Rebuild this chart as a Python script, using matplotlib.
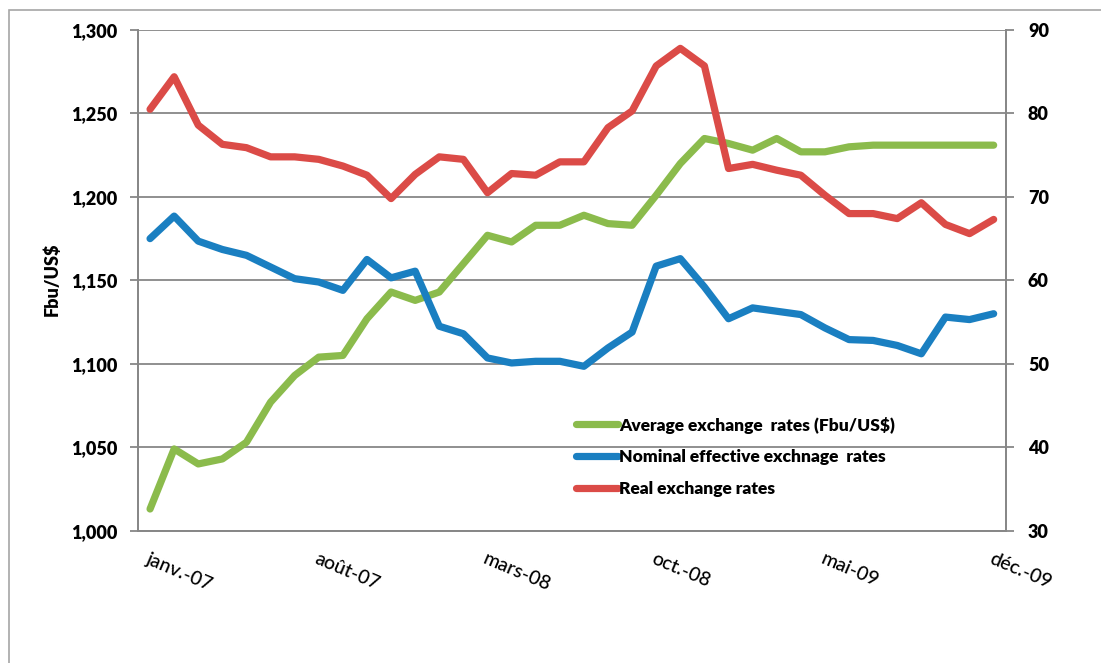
import matplotlib
matplotlib.use("Agg")
import matplotlib.pyplot as plt
from matplotlib.lines import Line2D
from matplotlib.patches import Rectangle
from matplotlib.font_manager import FontProperties

# ---- data ----
months = list(range(36))
tick_pos = [0, 7, 14, 21, 28, 35]
tick_labels = ["janv.-07", "août-07", "mars-08", "oct.-08", "mai-09", "déc.-09"]

avg_rate = [1013, 1049, 1040, 1043, 1053, 1077, 1093, 1104, 1105, 1127, 1143, 1138,
            1143, 1160, 1177, 1173, 1183, 1183, 1189, 1184, 1183, 1201, 1220, 1235,
            1232, 1228, 1235, 1227, 1227, 1230, 1231, 1231, 1231, 1231, 1231, 1231]
nominal = [65.0, 67.7, 64.7, 63.7, 63.0, 61.6, 60.2, 59.8, 58.8, 62.5, 60.3, 61.1,
           54.5, 53.6, 50.7, 50.1, 50.3, 50.3, 49.7, 51.9, 53.8, 61.7, 62.6, 59.2,
           55.4, 56.7, 56.3, 55.9, 54.3, 52.9, 52.8, 52.2, 51.2, 55.6, 55.3, 56.0]
real = [80.5, 84.4, 78.6, 76.3, 75.9, 74.8, 74.8, 74.5, 73.7, 72.6, 69.8, 72.7,
        74.8, 74.5, 70.5, 72.8, 72.6, 74.2, 74.2, 78.3, 80.3, 85.7, 87.8, 85.7,
        73.4, 73.9, 73.2, 72.6, 70.2, 68.0, 68.0, 67.4, 69.3, 66.7, 65.6, 67.3]

series_labels = ["Average exchange  rates (Fbu/US$)",
                 "Nominal effective exchnage  rates",
                 "Real exchange rates"]
left_ticks = [1000, 1050, 1100, 1150, 1200, 1250, 1300]
right_ticks = [30, 40, 50, 60, 70, 80, 90]

GREEN = "#8BBB4C"
BLUE = "#1A7FC1"
RED = "#DB4B47"
GRID = "#878787"

fp_tick = FontProperties(family="Lato", weight="heavy", size=13)
fp_x = FontProperties(family="Lato", weight="medium", size=14)
fp_leg = FontProperties(family="Lato", weight="heavy", size=12.5)
fp_ylab = FontProperties(family="Lato", weight="heavy", size=13)

W, H = 1101, 663
fig = plt.figure(figsize=(W / 100, H / 100), dpi=100)

# outer chart border
fig.patches.append(Rectangle((9 / W, -0.05), 1.2, (H - 10) / H + 0.05,
                             transform=fig.transFigure, fill=False,
                             edgecolor="#A6A6A6", linewidth=1.2))

x0, x1 = 138, 1005.7
y0, y1 = 30, 530.7
ax = fig.add_axes([x0 / W, (H - y1) / H, (x1 - x0) / W, (y1 - y0) / H])
ax2 = ax.twinx()

lw = 5.2
ax.plot(months, avg_rate, color=GREEN, lw=lw, solid_capstyle="round",
        solid_joinstyle="round", zorder=3)
ax2.plot(months, nominal, color=BLUE, lw=lw, solid_capstyle="round",
         solid_joinstyle="round", zorder=3)
ax2.plot(months, real, color=RED, lw=lw, solid_capstyle="round",
         solid_joinstyle="round", zorder=4)

ax.set_xlim(-0.5, 35.5)
ax.set_ylim(1000, 1300)
ax2.set_ylim(30, 90)
ax.set_yticks(left_ticks)
ax2.set_yticks(right_ticks)
ax.set_yticklabels([f"{v:,}" for v in left_ticks], fontproperties=fp_tick)
ax2.set_yticklabels([str(v) for v in right_ticks], fontproperties=fp_tick)

ax.grid(axis="y", color=GRID, lw=1.3)
ax.set_axisbelow(True)
for a in (ax, ax2):
    for s in a.spines.values():
        s.set_color(GRID)
        s.set_linewidth(1.3)
    a.spines["top"].set_visible(False)

ax.tick_params(axis="y", length=6, width=1.3, color=GRID, pad=9)
ax2.tick_params(axis="y", length=6, width=1.3, color=GRID, pad=10)

ax.set_xticks(tick_pos)
ax.set_xticklabels(tick_labels, fontproperties=fp_x, rotation=-23,
                   ha="left", rotation_mode="anchor")
ax.tick_params(axis="x", length=0, pad=14)

fig.text(52 / W, 1 - 279 / H, "Fbu/US$", rotation=90, ha="center", va="center",
         fontproperties=fp_ylab)

handles = [Line2D([], [], color=c, lw=lw, solid_capstyle="round")
           for c in (GREEN, BLUE, RED)]
leg = ax2.legend(handles, series_labels, loc="upper left",
                 bbox_to_anchor=(576 / W, 1 - 416.5 / H),
                 bbox_transform=fig.transFigure, frameon=False,
                 prop=fp_leg,
                 handlelength=2.4, handletextpad=0.1, labelspacing=0.92,
                 borderpad=0, borderaxespad=0)

fig.savefig("out.png", dpi=100)
